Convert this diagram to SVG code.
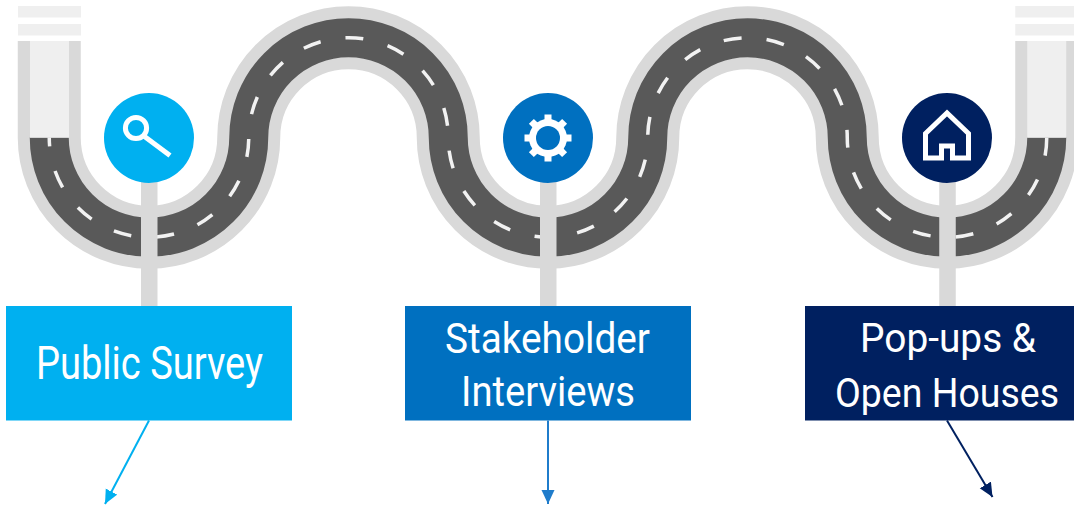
<svg xmlns="http://www.w3.org/2000/svg" width="1074" height="506" viewBox="0 0 1074 506">
  <style>
    .edge { fill: none; stroke: #d9d9d9; stroke-width: 63; }
    .asphalt { fill: none; stroke: #595959; stroke-width: 39; }
    .lane { fill: none; stroke: #f2f2f2; stroke-width: 3.5; stroke-dasharray: 18 25.2; stroke-dashoffset: 9; }
    .pale { fill: #efefef; }
    .pole { fill: #d9d9d9; }
    .label { font-family: Roboto, "Liberation Sans", sans-serif; fill: #ffffff; text-anchor: middle; }
    .glyph { fill: none; stroke: #ffffff; stroke-width: 5; }
    .link { fill: none; stroke-width: 2; }
  </style>
  <defs>
    <marker id="tip-cyan" markerUnits="userSpaceOnUse" markerWidth="16" markerHeight="14" refX="14" refY="6.5" orient="auto">
      <path d="M0,0 L14,6.5 L0,13 z" fill="#00b0f0"/>
    </marker>
    <marker id="tip-blue" markerUnits="userSpaceOnUse" markerWidth="16" markerHeight="14" refX="14" refY="6.5" orient="auto">
      <path d="M0,0 L14,6.5 L0,13 z" fill="#1f7ccb"/>
    </marker>
    <marker id="tip-navy" markerUnits="userSpaceOnUse" markerWidth="16" markerHeight="14" refX="14" refY="6.5" orient="auto">
      <path d="M0,0 L14,6.5 L0,13 z" fill="#002060"/>
    </marker>
  </defs>

  <!-- winding road -->
  <g id="road">
    <path class="edge" d="M49.25,41 V137.5 A99.75,99.75 0 0 0 248.75,137.5 A99.75,99.75 0 0 1 448.25,137.5 A99.75,99.75 0 0 0 647.75,137.5 A99.75,99.75 0 0 1 847.25,137.5 A99.75,99.75 0 0 0 1046.75,137.5 V41"/>
    <path class="asphalt" d="M49.25,137.5 A99.75,99.75 0 0 0 248.75,137.5 A99.75,99.75 0 0 1 448.25,137.5 A99.75,99.75 0 0 0 647.75,137.5 A99.75,99.75 0 0 1 847.25,137.5 A99.75,99.75 0 0 0 1046.75,137.5"/>
    <path class="lane" d="M49.25,137.5 A99.75,99.75 0 0 0 248.75,137.5 A99.75,99.75 0 0 1 448.25,137.5 A99.75,99.75 0 0 0 647.75,137.5 A99.75,99.75 0 0 1 847.25,137.5 A99.75,99.75 0 0 0 1046.75,137.5"/>
    <!-- road ends -->
    <rect class="pale" x="30" y="41" width="39" height="96.7"/>
    <rect class="pale" x="18" y="6" width="63" height="11.5"/>
    <rect class="pale" x="18" y="24" width="63" height="11.5"/>
    <rect class="pale" x="1027.25" y="41" width="39" height="96.7"/>
    <rect class="pale" x="1015.25" y="6" width="58.75" height="11.5"/>
    <rect class="pale" x="1015.25" y="24" width="58.75" height="11.5"/>
  </g>

  <!-- stop 1 -->
  <g id="public-survey">
    <rect class="pole" x="141" y="170" width="16.5" height="140"/>
    <circle cx="149" cy="138" r="45" fill="#00b0f0"/>
    <circle class="glyph" cx="136" cy="128" r="10.6"/>
    <path class="glyph" d="M144.5,136.5 L170,155.5" stroke-width="5.5"/>
    <rect x="6" y="306" width="286" height="114.5" fill="#00b0f0"/>
    <text class="label" x="149.5" y="379.3" font-size="46" textLength="227" lengthAdjust="spacingAndGlyphs">Public Survey</text>
  </g>

  <!-- stop 2 -->
  <g id="stakeholder-interviews">
    <rect class="pole" x="540" y="170" width="16.5" height="140"/>
    <circle cx="548" cy="138" r="45" fill="#0070c0"/>
    <g transform="translate(548 138)" fill="#ffffff">
      <circle r="19"/>
      <rect x="-3.5" y="-23.5" width="7" height="7"/>
      <rect x="-3.5" y="-23.5" width="7" height="7" transform="rotate(45)"/>
      <rect x="-3.5" y="-23.5" width="7" height="7" transform="rotate(90)"/>
      <rect x="-3.5" y="-23.5" width="7" height="7" transform="rotate(135)"/>
      <rect x="-3.5" y="-23.5" width="7" height="7" transform="rotate(180)"/>
      <rect x="-3.5" y="-23.5" width="7" height="7" transform="rotate(225)"/>
      <rect x="-3.5" y="-23.5" width="7" height="7" transform="rotate(270)"/>
      <rect x="-3.5" y="-23.5" width="7" height="7" transform="rotate(315)"/>
      <circle r="12" fill="#0070c0"/>
    </g>
    <rect x="405" y="306" width="286" height="114.5" fill="#0070c0"/>
    <text class="label" x="547.5" y="352.7" font-size="42" textLength="205" lengthAdjust="spacingAndGlyphs">Stakeholder</text>
    <text class="label" x="548" y="406" font-size="42" textLength="174" lengthAdjust="spacingAndGlyphs">Interviews</text>
  </g>

  <!-- stop 3 -->
  <g id="popups-open-houses">
    <rect class="pole" x="939.25" y="170" width="16.5" height="140"/>
    <circle cx="947" cy="138" r="45" fill="#002060"/>
    <path class="glyph" stroke-width="4.5" stroke-linejoin="miter" d="M925.5,158 V133.5 L947,113 L968.5,133.5 V158 H952.5 V146 H941.5 V158 Z"/>
    <rect x="805" y="306" width="269" height="114.5" fill="#002060"/>
    <text class="label" x="948" y="351.7" font-size="41" textLength="176" lengthAdjust="spacingAndGlyphs">Pop-ups &amp;</text>
    <text class="label" x="947" y="406.7" font-size="41" textLength="224" lengthAdjust="spacingAndGlyphs">Open Houses</text>
  </g>

  <!-- outgoing arrows -->
  <g id="connectors">
    <line class="link" x1="149" y1="420.5" x2="105" y2="504" stroke="#00b0f0" marker-end="url(#tip-cyan)"/>
    <line class="link" x1="548" y1="420.5" x2="548" y2="504" stroke="#1f7ccb" marker-end="url(#tip-blue)"/>
    <line class="link" x1="947" y1="420.5" x2="992.5" y2="497" stroke="#002060" marker-end="url(#tip-navy)"/>
  </g>
</svg>
